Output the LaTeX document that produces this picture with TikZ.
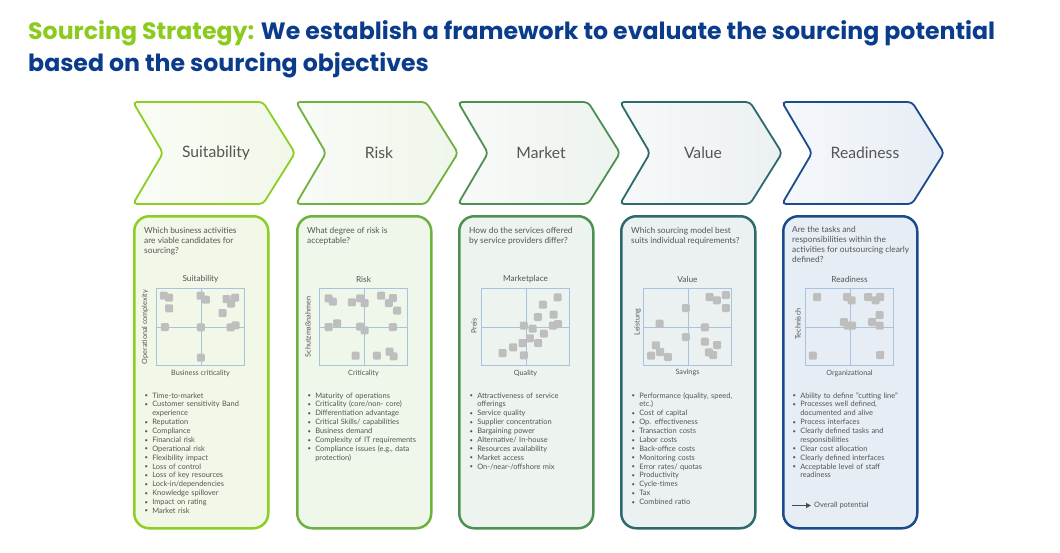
\documentclass[tikz,border=0pt]{standalone}
\usepackage{fontspec}
\setmainfont{Lato}
\newfontfamily\titlefont{Poppins}
\usetikzlibrary{arrows.meta}
\definecolor{tgreen}{HTML}{8CCB1E}
\definecolor{tblue}{HTML}{0B3C8C}
\definecolor{txt}{HTML}{555555}
\definecolor{sqc}{HTML}{BEBEBE}
\definecolor{frc}{HTML}{A9C2DE}
\definecolor{cA}{HTML}{8ACF22}\definecolor{fA}{HTML}{F2F8E8}
\definecolor{cB}{HTML}{6DB23E}\definecolor{fB}{HTML}{EFF6EA}
\definecolor{cC}{HTML}{4C9152}\definecolor{fC}{HTML}{EDF3EE}
\definecolor{cD}{HTML}{2C6A6C}\definecolor{fD}{HTML}{EBF0F1}
\definecolor{cE}{HTML}{1A4C8C}\definecolor{fE}{HTML}{E7EDF5}
\newlength\tmpw
\newcommand\fitfs[4]{%
  \settowidth\tmpw{#2\fontsize{10pt}{10pt}\selectfont #3}%
  \pgfmathsetmacro#1{10*#4/\tmpw}}
\newcommand\bi[1]{\par\noindent\makebox[7.6pt][l]{\raisebox{0.4pt}{\scalebox{0.8}{\textbullet}}}#1}
\newcommand\bic[1]{\par\noindent\hspace*{7.6pt}#1}
\newcommand\chevron[5]{%
  \path[chev, draw=#3, left color=#4!40!white, right color=#4]
    (#2,102) -- ({#2+130},102) -- ({#2+162},153) -- ({#2+130},204) -- (#2,204) -- ({#2+30},153) -- cycle;
  \node[chevlab] (#1) at ({#2+83},153) {#5};}
\newcommand\colbox[4]{\node[colbox, draw=#3, fill=#4] (#1) at (#2,215) {};}
\newcommand\chart[8]{% #1 name, #2 cx, #3 title, #4 xlabel, #5 ylabel, #6 ylab x, #7 ylab y, #8 squares
  \draw[frame] (#2,288) rectangle ++(88,77);
  \draw[frame] ({#2+44.5},288) -- ++(0,77);
  \draw[frame] (#2,327) -- ++(88,0);
  \foreach \a/\b in {#8} \fill[sq] ({#2+\a-4},{288+\b-4}) rectangle ++(8,8);
  \node[ctitle] (#1t) at ({#2+44},279) {#3};
  \node[axlab] (#1x) at ({#2+44},373) {#4};
  \node[axlab, rotate=90] (#1y) at (#6,#7) {#5};}
\begin{document}
\fitfs{\tfs}{\titlefont\bfseries}{Sourcing Strategy: We establish a framework to evaluate the sourcing potential}{967}%
\fitfs{\bfs}{}{Complexity of IT requirements}{99}%
\fitfs{\qfs}{}{activities for outsourcing clearly}{117}%
\fitfs{\cfs}{}{Suitability}{68}%
\fitfs{\ctfs}{}{Marketplace}{45}%
\fitfs{\afs}{}{Business criticality}{58.7}%
\begin{tikzpicture}[x=1pt,y=-1pt]
\tikzset{
  chev/.style={line width=1.8pt, rounded corners=4pt},
  chevlab/.style={font=\fontsize{\cfs pt}{\cfs pt}\selectfont, text=txt, inner sep=0},
  colbox/.style={line width=2.5pt, rounded corners=15pt, minimum width=134pt, minimum height=312pt, anchor=north west, inner sep=0},
  frame/.style={draw=frc, line width=0.7pt},
  sq/.style={fill=sqc, rounded corners=1.2pt},
  ctitle/.style={font=\fontsize{\ctfs pt}{\ctfs pt}\selectfont, text=txt, inner sep=0},
  axlab/.style={font=\fontsize{\afs pt}{\afs pt}\selectfont, text=txt, inner sep=0},
  qtext/.style={anchor=north west, align=left, inner sep=0, text=txt, font=\fontsize{\qfs pt}{10.2pt}\selectfont},
  btext/.style={anchor=north west, inner sep=0, text width=125pt, align=left, text=txt, font=\fontsize{\bfs pt}{8.87pt}\selectfont},
  ttl/.style={anchor=base west, inner sep=0, font=\titlefont\bfseries\fontsize{\tfs pt}{\tfs pt}\selectfont},
}
\useasboundingbox (0,0) rectangle (1060,552);
\fill[white] (0,0) rectangle (1060,552);
% title
\node[ttl] (title1) at (28,39.3) {\textcolor{tgreen}{Sourcing Strategy:} \textcolor{tblue}{We establish a framework to evaluate the sourcing potential}};
\node[ttl, text=tblue] (title2) at (28,71) {based on the sourcing objectives};
% chevrons
\chevron{chA}{133}{cA}{fA}{Suitability}
\chevron{chB}{296}{cB}{fB}{Risk}
\chevron{chC}{458}{cC}{fC}{Market}
\chevron{chD}{620}{cD}{fD}{Value}
\chevron{chE}{782}{cE}{fE}{Readiness}
% boxes
\colbox{bxA}{133}{cA}{fA}
\colbox{bxB}{296}{cB}{fB}
\colbox{bxC}{458}{cC}{fC}
\colbox{bxD}{620}{cD}{fD}
\colbox{bxE}{782}{cE}{fE}
% questions
\node[qtext] (qA) at (144,227) {Which business activities\\are viable candidates for\\sourcing?};
\node[qtext] (qB) at (307,227) {What degree of risk is\\acceptable?};
\node[qtext] (qC) at (469,227) {How do the services offered\\by service providers differ?};
\node[qtext] (qD) at (631,227) {Which sourcing model best\\suits individual requirements?};
\node[qtext] (qE) at (792,226) {Are the tasks and\\responsibilities within the\\activities for outsourcing clearly\\defined?};
% charts
\chart{gA}{156.5}{Suitability}{Business criticality}{Operational complexity}{145}{327}{7.3/7.7,12.7/9.7,12.7/20.3,44/7.7,49.3/11.7,70/11,78.7/9.7,74.7/15.7,66/25,8.3/39,44.3/39.3,74/39.3,79/37.3,44.3/69.7}
\chart{gB}{319.5}{Risk}{Criticality}{Schutzmaßnahmen}{308}{327}{9/10.3,13.3/13.7,32.3/14.3,40.7/10.3,45/15,61.7/7.7,73.3/10,69.3/15,77.7/22.7,9/39,17.7/35.3,40.7/38.7,45/42.3,73.3/39,36/67.7,57.3/67.7,70/63.7,74/68.3}
\chart{gC}{481.5}{Marketplace}{Quality}{Preis}{474}{326}{76/9.3,61.3/16.7,72/26.7,56.3/29,42.3/37.7,51/40.7,71.3/37.7,76.3/36,62.3/45.7,48.3/50.3,56.7/55,41/55,31.7/59.3,21/65,42.3/67.3}
\chart{gD}{643.5}{Value}{Savings}{Leistung}{637.7}{322}{66/9,73.3/12.3,82.3/7,82.3/20,42.3/20,16/35.7,61.3/39.3,42.3/49,61.3/53.7,73.7/57,12.3/57.3,16.7/64,7.7/67.7,24.3/69,65.3/64.3,69.7/67}
\chart{gE}{805.5}{Readiness}{Organizational}{Technisch}{798}{324}{11.7/9,41.7/9,46/12.3,62.7/9,70/12.3,74.7/9,74/27,38.3/34,42.3/37.7,46.7/37.7,66.7/34,74/37.7,7.3/67.7,74.7/67}
% bullet lists
\node[btext] (lA) at (144.5,389) {\bi{Time-to-market}\bi{Customer sensitivity Band}\bic{experience}\bi{Reputation}\bi{Compliance}\bi{Financial risk}\bi{Operational risk}\bi{Flexibility impact}\bi{Loss of control}\bi{Loss of key resources}\bi{Lock-in/dependencies}\bi{Knowledge spillover}\bi{Impact on rating}\bi{Market risk}};
\node[btext] (lB) at (307.5,389) {\bi{Maturity of operations}\bi{Criticality (core/non- core)}\bi{Differentiation advantage}\bi{Critical Skills/ capabilities}\bi{Business demand}\bi{Complexity of IT requirements}\bi{Compliance issues (e.g., data}\bic{protection)}};
\node[btext] (lC) at (469.5,389) {\bi{Attractiveness of service}\bic{offerings}\bi{Service quality}\bi{Supplier concentration}\bi{Bargaining power}\bi{Alternative/ In-house}\bi{Resources availability}\bi{Market access}\bi{On-/near-/offshore mix}};
\node[btext] (lD) at (631.5,389) {\bi{Performance (quality, speed,}\bic{etc.)}\bi{Cost of capital}\bi{Op. effectiveness}\bi{Transaction costs}\bi{Labor costs}\bi{Back-office costs}\bi{Monitoring costs}\bi{Error rates/ quotas}\bi{Productivity}\bi{Cycle-times}\bi{Tax}\bi{Combined ratio}};
\node[btext] (lE) at (792.5,389) {\bi{Ability to define "cutting line"}\bi{Processes well defined,}\bic{documented and alive}\bi{Process interfaces}\bi{Clearly defined tasks and}\bic{responsibilities}\bi{Clear cost allocation}\bi{Clearly defined interfaces}\bi{Acceptable level of staff}\bic{readiness}};
% overall potential
\coordinate (op1) at (792,505.5);
\coordinate (op2) at (811,505.5);
\draw[-{Triangle[length=5pt,width=5pt]}, line width=1.6pt, draw=txt!90!black, fill=txt!90!black] (op1) -- (op2);
\node[anchor=west, inner sep=0, text=txt, font=\fontsize{\bfs pt}{\bfs pt}\selectfont] (opl) at (814,505.5) {Overall potential};
\end{tikzpicture}
\end{document}
